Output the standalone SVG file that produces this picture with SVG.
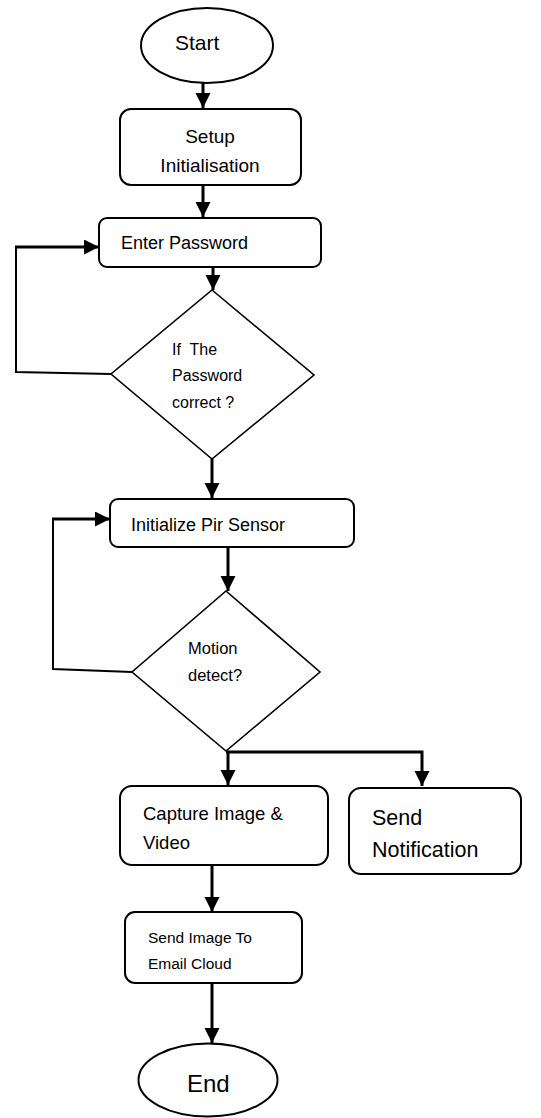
<svg xmlns="http://www.w3.org/2000/svg" width="541" height="1118" viewBox="0 0 541 1118">
<style>
.shape{fill:#fff;stroke:#000;stroke-width:2}
.dia{fill:#fff;stroke:#000;stroke-width:1.6}
.t{font-family:"Liberation Sans",Arial,sans-serif;fill:#000}
.c{stroke:#000;stroke-width:3;fill:none}
.l{stroke:#000;stroke-width:2;fill:none}
</style>
<defs>
<marker id="ah" markerUnits="userSpaceOnUse" markerWidth="16" markerHeight="16" refX="15" refY="7.5" orient="auto">
<path d="M0,0 L15,7.5 L0,15 z" fill="#000"/>
</marker>
</defs>
<g id="connectors">
<line class="c" x1="203" y1="83" x2="203" y2="108" marker-end="url(#ah)"/>
<line class="c" x1="203" y1="185" x2="203" y2="217" marker-end="url(#ah)"/>
<line class="c" x1="213" y1="267" x2="213" y2="290" marker-end="url(#ah)"/>
<polyline class="l" points="111,374 16,372 16,247"/>
<line class="c" x1="15" y1="247" x2="99" y2="247" marker-end="url(#ah)"/>
<line class="c" x1="212" y1="459" x2="212" y2="498" marker-end="url(#ah)"/>
<line class="c" x1="228" y1="547" x2="228" y2="591" marker-end="url(#ah)"/>
<polyline class="l" points="132,672 53,669 53,519"/>
<line class="c" x1="52" y1="519" x2="110" y2="519" marker-end="url(#ah)"/>
<polyline class="c" points="226,752 422,752 422,786" marker-end="url(#ah)"/>
<line class="c" x1="228" y1="751" x2="228" y2="785" marker-end="url(#ah)"/>
<line class="c" x1="212" y1="865" x2="212" y2="912" marker-end="url(#ah)"/>
<line class="c" x1="212" y1="983" x2="212" y2="1043" marker-end="url(#ah)"/>
</g>
<g id="start">
<ellipse class="shape" cx="207" cy="45.5" rx="66" ry="37.5"/>
<text class="t" x="175" y="50" font-size="21">Start</text>
</g>
<g id="setup">
<rect class="shape" x="120" y="109" width="181" height="76" rx="11"/>
<text class="t" x="210" y="143" font-size="19" text-anchor="middle">Setup</text>
<text class="t" x="210" y="172" font-size="19" text-anchor="middle">Initialisation</text>
</g>
<g id="enter-password">
<rect class="shape" x="99" y="218" width="222" height="49" rx="8"/>
<text class="t" x="121" y="249" font-size="18">Enter Password</text>
</g>
<g id="password-check">
<polygon class="dia" points="212,290 314,375 212,459 111,374"/>
<text class="t" x="172" y="355" font-size="16" style="white-space:pre" xml:space="preserve">If  The</text>
<text class="t" x="172" y="381" font-size="16">Password</text>
<text class="t" x="172" y="408" font-size="16">correct ?</text>
</g>
<g id="init-pir">
<rect class="shape" x="110" y="499" width="244" height="48" rx="8"/>
<text class="t" x="131" y="531" font-size="18">Initialize Pir Sensor</text>
</g>
<g id="motion-detect">
<polygon class="dia" points="226,591 320,672 226,751 132,672"/>
<text class="t" x="188" y="654" font-size="16.5">Motion</text>
<text class="t" x="188" y="681" font-size="16.5">detect?</text>
</g>
<g id="capture">
<rect class="shape" x="120" y="786" width="208" height="79" rx="12"/>
<text class="t" x="143" y="820" font-size="18.5">Capture Image &amp;</text>
<text class="t" x="143" y="849" font-size="18.5">Video</text>
</g>
<g id="send-notification">
<rect class="shape" x="349" y="788" width="172" height="86" rx="12"/>
<text class="t" x="372" y="825" font-size="21.5">Send</text>
<text class="t" x="372" y="857" font-size="21.5">Notification</text>
</g>
<g id="send-image">
<rect class="shape" x="125" y="912" width="177" height="71" rx="10"/>
<text class="t" x="148" y="943" font-size="15.5">Send Image To</text>
<text class="t" x="148" y="969" font-size="15.5">Email Cloud</text>
</g>
<g id="end">
<ellipse class="shape" cx="208" cy="1080" rx="69.5" ry="36.5"/>
<text class="t" x="187" y="1092" font-size="24">End</text>
</g>
</svg>
